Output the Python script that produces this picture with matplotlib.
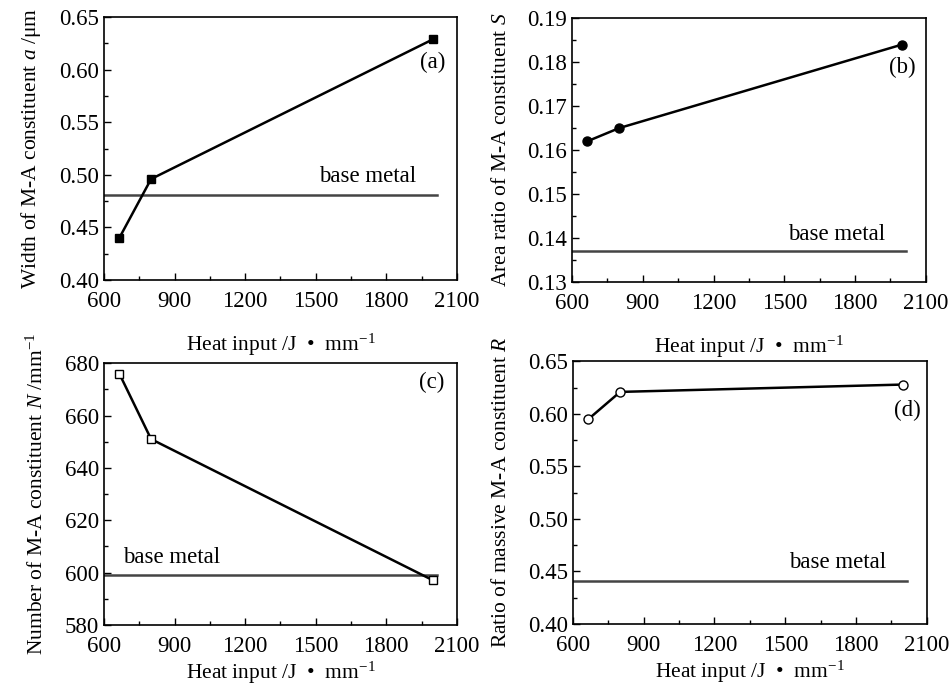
import matplotlib
matplotlib.use('Agg')
import matplotlib.pyplot as plt
from matplotlib.ticker import MultipleLocator

plt.rcParams['font.family'] = 'Liberation Serif'
plt.rcParams['mathtext.fontset'] = 'custom'
plt.rcParams['mathtext.rm'] = 'Liberation Serif'
plt.rcParams['mathtext.it'] = 'Liberation Serif:italic'

#----data----
heat_input = [665, 800, 2000]
width_a = [0.440, 0.496, 0.629]
area_ratio = [0.162, 0.165, 0.184]
number_n = [676, 651, 597]
massive_r = [0.595, 0.621, 0.628]

base_width = 0.481
base_area = 0.137
base_number = 599
base_massive = 0.441

x_label = 'Heat input /J  •  mm$^{-1}$'

panels = [
    # values, base, ylim, major, label, marker, filled, tag, tag pos, base text pos
    (width_a, base_width, (0.40, 0.65), 0.05, 'Width of M-A constituent $a$ /μm',
     's', True, '(a)', (1998, 0.607), (1720, 0.498)),
    (area_ratio, base_area, (0.13, 0.19), 0.01, 'Area ratio of M-A constituent $S$',
     'o', True, '(b)', (2002, 0.1787), (1720, 0.1409)),
    (number_n, base_number, (580, 680), 20, 'Number of M-A constituent $N$ /mm$^{-1}$',
     's', False, '(c)', (1995, 672.5), (888, 605.6)),
    (massive_r, base_massive, (0.40, 0.65), 0.05, 'Ratio of massive M-A constituent $R$',
     'o', False, '(d)', (2018, 0.603), (1720, 0.4586)),
]

fig = plt.figure(figsize=(9.51, 6.89), dpi=100)
rects = [[0.1094, 0.5936, 0.371, 0.3817],
         [0.6015, 0.5907, 0.372, 0.3830],
         [0.1094, 0.0929, 0.371, 0.3800],
         [0.6025, 0.0944, 0.372, 0.3810]]
xlabel_pads = [14, 14, 2, 2]

for rect, p, lp in zip(rects, panels, xlabel_pads):
    vals, base, ylim, major, ylab, mk, filled, tag, tagpos, bpos = p
    ax = fig.add_axes(rect)
    ax.plot([600, 2015], [base, base], color='#444444', lw=1.8)
    ax.plot(heat_input, vals, color='black', lw=1.8, marker=mk,
            markersize=6 if mk == 's' else 6.5,
            markerfacecolor='black' if filled else 'white',
            markeredgecolor='black', markeredgewidth=1.0, zorder=3)
    ax.text(tagpos[0], tagpos[1], tag, ha='center', va='center', fontsize=16.5)
    ax.text(bpos[0], bpos[1], 'base metal', ha='center', va='center', fontsize=16.5)
    ax.set_xlim(600, 2100)
    ax.set_ylim(*ylim)
    ax.xaxis.set_major_locator(MultipleLocator(300))
    ax.xaxis.set_minor_locator(MultipleLocator(150))
    ax.yaxis.set_major_locator(MultipleLocator(major))
    ax.yaxis.set_minor_locator(MultipleLocator(major / 2))
    if isinstance(major, float):
        ax.yaxis.set_major_formatter(plt.FormatStrFormatter('%.2f'))
    ax.tick_params(which='both', direction='in', labelsize=16.5, width=1.0)
    ax.tick_params(which='major', length=5)
    ax.tick_params(which='minor', length=3)
    ax.tick_params(axis='x', pad=8)
    for s in ax.spines.values():
        s.set_linewidth(1.2)
    ax.set_xlabel(x_label, fontsize=15.5, labelpad=lp)
    ax.set_ylabel(ylab, fontsize=15.5, labelpad=12)

fig.savefig('out.png', dpi=100, facecolor='white')
